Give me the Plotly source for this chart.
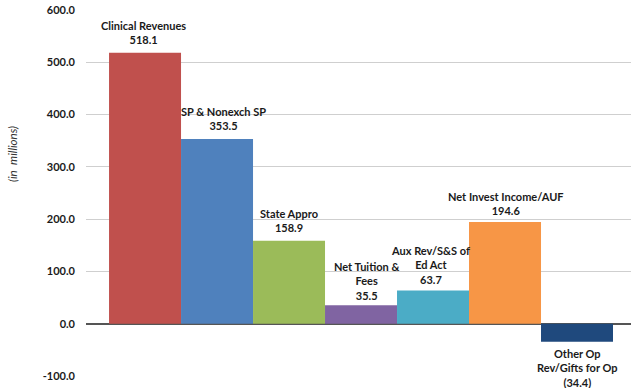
import plotly.graph_objects as go

# Revenue sources (in millions)
categories = [
    "Clinical Revenues",
    "SP & Nonexch SP",
    "State Appro",
    "Net Tuition &<br>Fees",
    "Aux Rev/S&S of<br>Ed Act",
    "Net Invest Income/AUF",
    "Other Op<br>Rev/Gifts for Op",
]
values = [518.1, 353.5, 158.9, 35.5, 63.7, 194.6, -34.4]
colors = ["#C0504D", "#4F81BD", "#9BBB59", "#8064A2", "#4BACC6", "#F79646", "#1F497D"]

y_ticks = [-100, 0, 100, 200, 300, 400, 500, 600]
y_tick_labels = ["-100.0", "0.0", "100.0", "200.0", "300.0", "400.0", "500.0", "600.0"]

# small per-label nudges (px) for the data labels
label_dx = [-2, 6, 0, 5, -3, 1, 0]
label_dy = [5, 5, 5, 1, 2, 3, -3]

FONT = "Lato"
W, H = 631, 388
ML, MR, MT, MB = 86, 0, 10, 12
positions = list(range(len(values)))

fig = go.Figure()
fig.add_trace(go.Bar(
    x=positions,
    y=values,
    width=1.0,
    marker=dict(color=colors, line=dict(width=0)),
    hoverinfo="skip",
    cliponaxis=False,
))


def fmt(v):
    return f"({abs(v):.1f})" if v < 0 else f"{v:.1f}"


annotations = []
for i, (name, v) in enumerate(zip(categories, values)):
    annotations.append(dict(
        x=positions[i], y=v, xref="x", yref="y",
        text=f"<b>{name}<br>{fmt(v)}</b>",
        showarrow=False,
        align="center",
        xanchor="center",
        yanchor="bottom" if v >= 0 else "top",
        xshift=label_dx[i],
        yshift=label_dy[i],
        font=dict(family=FONT, size=11, color="#1a1a1a"),
    ))

# rotated y-axis caption
plot_w = W - ML - MR
plot_h = H - MT - MB
annotations.append(dict(
    x=-(ML - 12) / plot_w, y=(H - MB - 154) / plot_h,
    xref="paper", yref="paper",
    text="<i>(in  millions)</i>",
    showarrow=False, textangle=-90,
    xanchor="center", yanchor="middle",
    font=dict(family=FONT, size=11.5, color="#333333"),
))

fig.update_layout(
    width=W, height=H,
    margin=dict(l=ML, r=MR, t=MT, b=MB),
    paper_bgcolor="white",
    plot_bgcolor="white",
    showlegend=False,
    annotations=annotations,
    xaxis=dict(
        range=[-0.82, 6.75],
        showticklabels=False,
        showgrid=False,
        zeroline=False,
        showline=False,
        fixedrange=True,
    ),
    yaxis=dict(
        range=[-100, 600],
        tickvals=y_ticks,
        ticktext=y_tick_labels,
        tickfont=dict(family=FONT, size=11, color="#1a1a1a", weight="bold"),
        ticklabelstandoff=10,
        showgrid=True,
        gridcolor="#CFCFCF",
        gridwidth=1,
        zeroline=True,
        zerolinecolor="#555555",
        zerolinewidth=1.5,
        showline=False,
        fixedrange=True,
    ),
)

fig.write_html("out.html")
